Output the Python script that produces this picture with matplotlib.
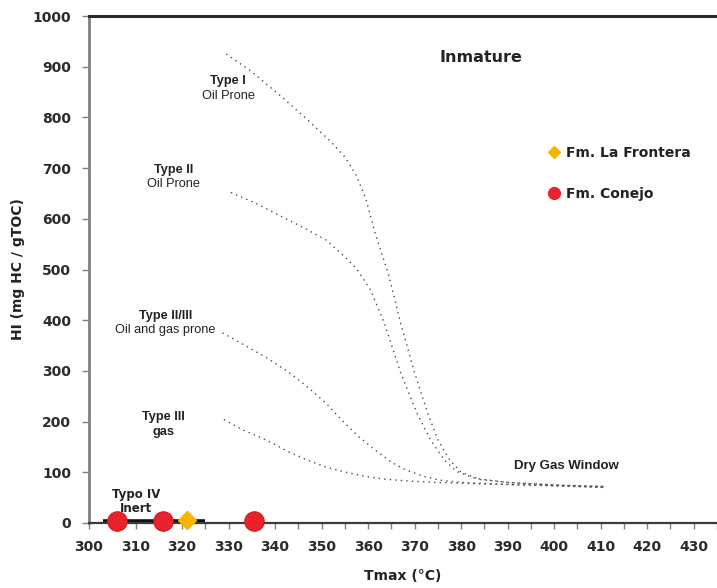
import matplotlib
matplotlib.use("Agg")
import matplotlib.pyplot as plt
from matplotlib.lines import Line2D

# Kerogen-type maturation paths (Tmax in °C, HI in mg HC / g TOC)
type1_tmax = [329.5, 335, 341.5, 347, 352, 355, 357.5, 359.5, 361.5, 364.3, 367, 370, 372.8, 375, 377.5, 380, 384, 390, 400, 411]
type1_hi = [925, 890, 840, 795, 752, 722, 685, 640, 572, 493, 394, 296, 217, 164, 125, 100, 86, 80, 75, 72]

type2_tmax = [330.5, 336, 341.5, 346, 351, 355, 357.5, 360.5, 363.5, 367, 370.5, 373.4, 376.4, 379, 383, 390, 400, 411]
type2_hi = [652, 630, 604, 583, 558, 525, 502, 460, 394, 296, 217, 164, 124, 102, 88, 80, 75, 70]

type23_tmax = [328.7, 333, 338, 343, 347, 351, 354.3, 358, 361.5, 365, 368, 372, 375, 380, 390, 400, 411]
type23_hi = [375, 353, 327, 297, 268, 236, 203, 170, 144, 120, 105, 92, 85, 80, 76, 73, 70]

type3_tmax = [329, 333, 338, 343, 347, 351, 355.7, 360, 364, 370, 375, 385, 395, 405, 411]
type3_hi = [204, 184, 164, 140, 124, 110, 99, 91, 86, 82, 80, 77, 75, 73, 72]

type4_tmax = [303, 325]
type4_hi = [3, 3]

# Samples
conejo_tmax = [306, 316, 335.5]
conejo_hi = [3, 4, 3]
frontera_tmax = [321]
frontera_hi = [5]

x_ticks = list(range(300, 431, 10))
y_ticks = list(range(0, 1001, 100))

fig = plt.figure(figsize=(7.17, 5.88), dpi=100)
ax = fig.add_axes([89 / 717, 1 - 523 / 588, 1 - 89 / 717, (523 - 16) / 588])

ax.set_xlim(300, 433.9)
ax.set_ylim(0, 1000)

dot = dict(color="#4a4a4a", lw=1.0, linestyle=(0, (1, 3)))
for xs, ys in [(type1_tmax, type1_hi), (type2_tmax, type2_hi),
               (type23_tmax, type23_hi), (type3_tmax, type3_hi)]:
    ax.plot(xs, ys, **dot)
ax.plot(type4_tmax, type4_hi, color="#111111", lw=2.6, solid_capstyle="butt")

ax.plot(conejo_tmax, conejo_hi, "o", ms=14, color="#e8232b", mec="#d01820",
        mew=0.8, clip_on=False, zorder=5, linestyle="none")
ax.plot(frontera_tmax, frontera_hi, "D", ms=9, color="#f7b500", mec="#f7b500",
        clip_on=False, zorder=6, linestyle="none")

# Spines
ax.spines["right"].set_visible(False)
ax.spines["left"].set_color("#808080")
ax.spines["left"].set_linewidth(2.0)
ax.spines["bottom"].set_color("#3a3a3a")
ax.spines["bottom"].set_linewidth(1.6)
ax.spines["top"].set_color("#2a2a2a")
ax.spines["top"].set_linewidth(2.2)

ax.set_xticks(x_ticks)
ax.set_xticks([t + 5 for t in x_ticks], minor=True)
ax.set_yticks(y_ticks)
ax.tick_params(axis="x", which="both", direction="out", length=4, width=1,
               color="#808080", pad=8)
ax.tick_params(axis="y", which="both", direction="out", length=5, width=1,
               color="#808080", pad=8)
for lab in ax.get_xticklabels() + ax.get_yticklabels():
    lab.set_fontfamily("DejaVu Sans")
    lab.set_fontweight("bold")
    lab.set_fontsize(10)
    lab.set_color("#2b2b2b")

ax.set_xlabel("Tmax (°C)", fontfamily="DejaVu Sans", fontweight="bold",
              fontsize=10, color="#222222", labelpad=11)
ax.set_ylabel("HI (mg HC / gTOC)", fontfamily="DejaVu Sans", fontweight="bold",
              fontsize=10, color="#222222", labelpad=5)

# Kerogen type annotations
arial = "Liberation Sans"
def label(x, y, bold_text, normal_text, dy=29):
    ax.text(x, y, bold_text, fontfamily=arial, fontweight="bold", fontsize=9.2,
            color="#222222", ha="center", va="center")
    ax.text(x, y - dy, normal_text, fontfamily=arial, fontsize=9.2,
            color="#222222", ha="center", va="center")

label(329.9, 872, "Type I", "Oil Prone")
label(318.1, 696, "Type II", "Oil Prone", dy=27)
label(316.4, 408, "Type II/III", "Oil and gas prone", dy=27)
ax.text(316.0, 209, "Type III", fontfamily=arial, fontweight="bold", fontsize=9.2,
        color="#222222", ha="center", va="center")
ax.text(316.0, 180, "gas", fontfamily=arial, fontweight="bold", fontsize=9.2,
        color="#222222", ha="center", va="center")
ax.text(310.2, 57, "Typo IV", fontfamily="DejaVu Sans", fontweight="bold",
        fontsize=8.5, color="#222222", ha="center", va="center")
ax.text(310.2, 28, "Inert", fontfamily="DejaVu Sans", fontweight="bold",
        fontsize=8.5, color="#222222", ha="center", va="center")
ax.text(402.6, 112, "Dry Gas Window", fontfamily=arial, fontweight="bold",
        fontsize=9.5, color="#222222", ha="center", va="center")
ax.text(384.2, 919, "Inmature", fontfamily="DejaVu Sans", fontweight="bold",
        fontsize=11.5, color="#222222", ha="center", va="center")

handles = [
    Line2D([], [], marker="D", color="#f7b500", ms=6.5, linestyle="none"),
    Line2D([], [], marker="o", color="#e8232b", ms=8.5, linestyle="none"),
]
leg = ax.legend(handles, ["Fm. La Frontera", "Fm. Conejo"], loc="upper left",
                bbox_to_anchor=(541 / 717, 1 - 139 / 588),
                bbox_transform=fig.transFigure, frameon=False, borderpad=0,
                handlelength=0.8, handletextpad=0.5, labelspacing=1.95,
                prop=dict(family="DejaVu Sans", weight="bold", size=10))
for t in leg.get_texts():
    t.set_color("#222222")

fig.savefig("out.png", dpi=100)
